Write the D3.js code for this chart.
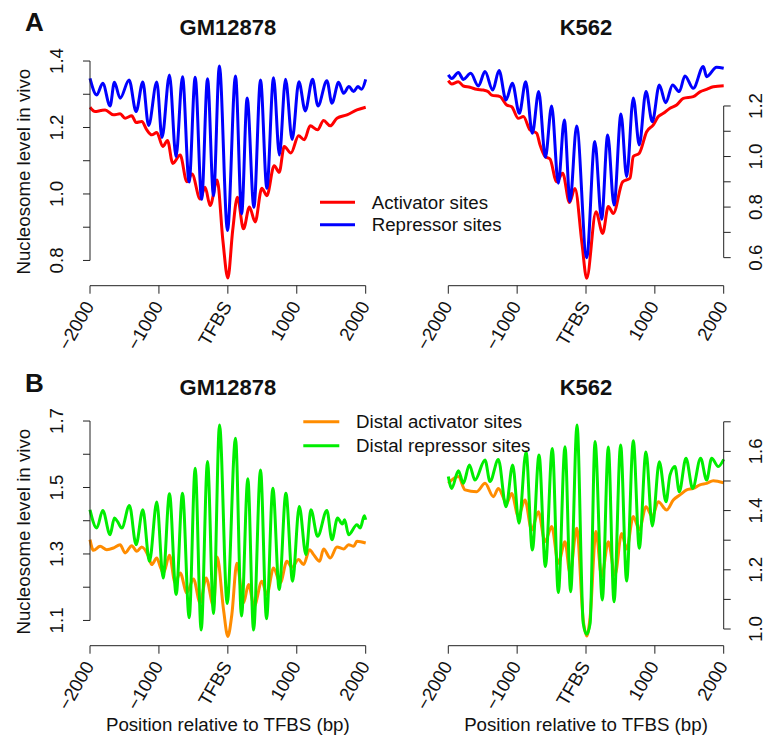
<!DOCTYPE html>
<html>
<head>
<meta charset="utf-8">
<script src="https://cdn.jsdelivr.net/npm/d3@7"></script>
<style>
  body { margin: 0; background: #fff; }
  svg text { font-family: "Liberation Sans", Arial, Helvetica, sans-serif; fill: #111; }
</style>
</head>
<body>
<div id="chart"></div>
<script>
const width = 766
const height = 737

// x ticks (bp relative to TFBS)
const xTicks = [-2000, -1000, 0, 1000, 2000]
const xTickLabels = ["\u22122000", "\u22121000", "TFBS", "1000", "2000"]

// y ticks per panel
const yTicksGmA = [0.8, 0.9, 1.0, 1.1, 1.2, 1.3, 1.4]
const yLabelsGmA = [0.8, 1.0, 1.2, 1.4]
const yTicksK5A = [0.6, 0.7, 0.8, 0.9, 1.0, 1.1, 1.2]
const yLabelsK5A = [0.6, 0.8, 1.0, 1.2]
const yTicksGmB = [1.1, 1.2, 1.3, 1.4, 1.5, 1.6, 1.7]
const yLabelsGmB = [1.1, 1.3, 1.5, 1.7]
const yTicksK5B = [1.0, 1.1, 1.2, 1.3, 1.4, 1.5, 1.6, 1.7]
const yLabelsK5B = [1.0, 1.2, 1.4, 1.6]

const legendA = ["Activator sites", "Repressor sites"]
const legendB = ["Distal activator sites", "Distal repressor sites"]

// [position, nucleosome level]
const gmActivator = [[-2000,1.261],[-1926,1.248],[-1844,1.251],[-1781,1.253],[-1660,1.238],[-1563,1.241],[-1491,1.228],[-1394,1.235],[-1331,1.215],[-1249,1.218],[-1176,1.193],[-1104,1.178],[-1031,1.185],[-944,1.143],[-876,1.161],[-799,1.092],[-692,1.117],[-595,1.037],[-520,1.06],[-402,0.985],[-330,1.02],[-257,0.965],[-155,1.042],[-72,0.86],[0,0.747],[70,0.89],[139,0.99],[227,0.895],[313,0.961],[396,0.916],[493,1.017],[566,0.995],[672,1.085],[745,1.065],[818,1.143],[915,1.123],[1026,1.175],[1108,1.163],[1195,1.205],[1302,1.193],[1389,1.221],[1486,1.205],[1583,1.228],[1728,1.238],[1873,1.253],[2000,1.261]]
const gmRepressor = [[-2000,1.348],[-1902,1.298],[-1815,1.333],[-1709,1.265],[-1646,1.336],[-1563,1.288],[-1433,1.343],[-1331,1.248],[-1234,1.337],[-1150,1.206],[-1031,1.337],[-955,1.17],[-847,1.358],[-752,1.112],[-658,1.353],[-562,1.036],[-474,1.351],[-380,0.984],[-295,1.347],[-208,0.995],[-123,1.385],[-5,0.89],[111,1.355],[200,0.94],[280,1.289],[378,0.96],[474,1.343],[566,1.017],[663,1.35],[748,1.117],[837,1.345],[933,1.164],[1031,1.338],[1123,1.25],[1229,1.345],[1307,1.265],[1437,1.341],[1510,1.273],[1607,1.336],[1679,1.303],[1757,1.323],[1825,1.308],[1888,1.323],[1940,1.315],[2000,1.345]]
const k5Activator = [[-2000,1.3],[-1950,1.287],[-1854,1.296],[-1781,1.279],[-1685,1.274],[-1588,1.266],[-1491,1.263],[-1419,1.256],[-1370,1.243],[-1249,1.237],[-1152,1.204],[-1079,1.197],[-983,1.151],[-910,1.158],[-813,1.105],[-716,1.092],[-668,1.046],[-595,1.0],[-523,0.99],[-426,0.9],[-339,0.934],[-240,0.818],[-160,0.874],[-60,0.66],[10,0.518],[145,0.782],[242,0.696],[324,0.802],[397,0.775],[532,0.9],[639,0.914],[687,1.0],[774,1.013],[881,1.098],[978,1.125],[1050,1.158],[1123,1.171],[1220,1.191],[1316,1.204],[1413,1.23],[1558,1.237],[1655,1.256],[1752,1.266],[1849,1.276],[2000,1.28]]
const k5Repressor = [[-2000,1.323],[-1950,1.309],[-1854,1.332],[-1781,1.305],[-1675,1.329],[-1563,1.279],[-1467,1.336],[-1355,1.263],[-1263,1.34],[-1162,1.224],[-1070,1.29],[-968,1.171],[-876,1.296],[-779,1.092],[-687,1.257],[-590,0.997],[-499,1.2],[-402,0.894],[-315,1.145],[-232,0.822],[-136,1.121],[10,0.6],[128,1.059],[227,0.752],[315,1.085],[407,0.808],[508,1.168],[590,0.92],[687,1.232],[774,1.046],[871,1.257],[963,1.138],[1065,1.283],[1157,1.213],[1258,1.283],[1355,1.257],[1437,1.319],[1558,1.27],[1704,1.356],[1752,1.316],[1897,1.353],[2000,1.349]]
const gmDistalAct = [[-2000,1.343],[-1950,1.311],[-1854,1.323],[-1757,1.313],[-1660,1.318],[-1563,1.328],[-1491,1.303],[-1394,1.325],[-1321,1.308],[-1249,1.321],[-1152,1.293],[-1104,1.268],[-1031,1.288],[-983,1.263],[-934,1.243],[-847,1.296],[-765,1.213],[-692,1.243],[-595,1.183],[-499,1.225],[-402,1.153],[-315,1.228],[-208,1.143],[-155,1.291],[-63,1.133],[0,1.052],[58,1.118],[131,1.272],[227,1.153],[300,1.208],[382,1.143],[494,1.218],[566,1.178],[663,1.258],[760,1.213],[857,1.278],[929,1.26],[1026,1.283],[1099,1.268],[1186,1.313],[1244,1.298],[1331,1.278],[1389,1.315],[1486,1.288],[1583,1.321],[1680,1.315],[1752,1.328],[1825,1.323],[1873,1.338],[2000,1.333]]
const gmDistalRep = [[-2000,1.433],[-1902,1.378],[-1815,1.431],[-1709,1.358],[-1646,1.408],[-1602,1.398],[-1539,1.378],[-1428,1.446],[-1331,1.328],[-1234,1.433],[-1137,1.278],[-1031,1.456],[-939,1.228],[-847,1.481],[-750,1.178],[-658,1.483],[-561,1.108],[-474,1.558],[-387,1.071],[-295,1.578],[-208,1.121],[-121,1.688],[-10,1.151],[111,1.648],[198,1.113],[290,1.526],[373,1.071],[474,1.553],[561,1.105],[653,1.498],[745,1.193],[842,1.483],[939,1.218],[1036,1.443],[1133,1.298],[1205,1.433],[1302,1.353],[1437,1.431],[1510,1.343],[1592,1.408],[1660,1.39],[1694,1.403],[1752,1.358],[1873,1.388],[1921,1.378],[1980,1.415],[2000,1.403]]
const k5DistalAct = [[-2000,1.492],[-1854,1.515],[-1757,1.47],[-1587,1.464],[-1466,1.492],[-1345,1.447],[-1273,1.475],[-1152,1.425],[-1079,1.458],[-983,1.38],[-886,1.436],[-789,1.334],[-692,1.396],[-595,1.295],[-498,1.346],[-402,1.222],[-305,1.295],[-232,1.188],[-135,1.34],[-40,1.03],[10,0.976],[60,1.04],[145,1.329],[227,1.177],[324,1.295],[421,1.182],[518,1.323],[590,1.27],[687,1.38],[774,1.335],[871,1.413],[963,1.38],[1050,1.43],[1171,1.402],[1268,1.436],[1365,1.453],[1462,1.47],[1558,1.475],[1655,1.487],[1752,1.492],[1849,1.501],[2000,1.494]]
const k5DistalRep = [[-2000,1.515],[-1950,1.475],[-1854,1.535],[-1781,1.492],[-1694,1.554],[-1612,1.503],[-1467,1.571],[-1394,1.498],[-1273,1.573],[-1162,1.413],[-1065,1.554],[-973,1.357],[-871,1.599],[-779,1.267],[-682,1.588],[-590,1.211],[-489,1.61],[-402,1.123],[-305,1.616],[-223,1.126],[-130,1.689],[-40,1.019],[10,0.982],[60,1.019],[131,1.633],[237,1.098],[324,1.615],[407,1.092],[503,1.622],[590,1.162],[687,1.636],[774,1.273],[871,1.598],[963,1.348],[1065,1.565],[1162,1.43],[1220,1.52],[1292,1.549],[1355,1.464],[1452,1.577],[1549,1.475],[1665,1.577],[1752,1.503],[1825,1.577],[1921,1.549],[2000,1.573]]

const svg = d3.select("#chart")
              .append("svg")
              .attr("width", width)
              .attr("height", height)

const fontSize = 18.7
const lineW = 3

const panels = [
  {x0: 90, x1: 365.7, top: 57.7, bottom: 285.7, domain: [0.724, 1.41], ticks: yTicksGmA, labels: yLabelsGmA, side: "left",
   title: "GM12878", series: [gmActivator, gmRepressor], colors: ["#ff0000", "#0000ff"]},
  {x0: 448.3, x1: 723.7, top: 57.7, bottom: 285.7, domain: [0.489, 1.391], ticks: yTicksK5A, labels: yLabelsK5A, side: "right",
   title: "K562", series: [k5Activator, k5Repressor], colors: ["#ff0000", "#0000ff"]},
  {x0: 90, x1: 365.7, top: 417.7, bottom: 645.7, domain: [1.024, 1.71], ticks: yTicksGmB, labels: yLabelsGmB, side: "left",
   title: "GM12878", series: [gmDistalAct, gmDistalRep], colors: ["#ff8c00", "#00ee00"]},
  {x0: 448.3, x1: 723.7, top: 417.7, bottom: 645.7, domain: [0.9436, 1.7138], ticks: yTicksK5B, labels: yLabelsK5B, side: "right",
   title: "K562", series: [k5DistalAct, k5DistalRep], colors: ["#ff8c00", "#00ee00"]}
]

panels.forEach(p => {
  const x = d3.scaleLinear().domain([-2000, 2000]).range([p.x0, p.x1])
  const y = d3.scaleLinear().domain(p.domain).range([p.bottom, p.top])
  const g = svg.append("g")

  const line = d3.line()
                 .x(d => x(d[0]))
                 .y(d => y(d[1]))
                 .curve(d3.curveMonotoneX)

  p.series.forEach((s, i) => {
    g.append("path")
     .datum(s)
     .attr("d", line)
     .attr("fill", "none")
     .attr("stroke", p.colors[i])
     .attr("stroke-width", lineW)
     .attr("stroke-linejoin", "round")
  })

  // x axis
  g.append("line")
   .attr("x1", x(-2000)).attr("x2", x(2000))
   .attr("y1", p.bottom).attr("y2", p.bottom)
   .attr("stroke", "#222")
  xTicks.forEach((t, i) => {
    g.append("line")
     .attr("x1", x(t)).attr("x2", x(t))
     .attr("y1", p.bottom).attr("y2", p.bottom + 8)
     .attr("stroke", "#222")
    g.append("text")
     .attr("transform", `translate(${x(t) - 1},${p.bottom + 17}) rotate(-60)`)
     .attr("text-anchor", "end")
     .attr("dy", "0.35em")
     .style("font-size", fontSize + "px")
     .text(xTickLabels[i])
  })

  // y axis
  const ax = p.side === "left" ? p.x0 : p.x1
  const dir = p.side === "left" ? -1 : 1
  const yr = d3.extent(p.ticks)
  g.append("line")
   .attr("x1", ax).attr("x2", ax)
   .attr("y1", y(yr[0])).attr("y2", y(yr[1]))
   .attr("stroke", "#222")
  p.ticks.forEach(t => {
    g.append("line")
     .attr("x1", ax).attr("x2", ax + dir * 7)
     .attr("y1", y(t)).attr("y2", y(t))
     .attr("stroke", "#222")
  })
  p.labels.forEach(t => {
    g.append("text")
     .attr("transform", `translate(${ax + dir * (p.side === "left" ? 34 : 32)},${y(t)}) rotate(-90)`)
     .attr("text-anchor", "middle")
     .attr("dy", "0.35em")
     .style("font-size", fontSize + "px")
     .text(d3.format(".1f")(t))
  })

  // title
  g.append("text")
   .attr("x", (p.x0 + p.x1) / 2)
   .attr("y", p.top - 23)
   .attr("text-anchor", "middle")
   .style("font-size", "22px")
   .style("font-weight", "bold")
   .text(p.title)

  if (p.side === "left") {
    g.append("text")
     .attr("transform", `translate(23,${(p.top + p.bottom) / 2}) rotate(-90)`)
     .attr("text-anchor", "middle")
     .attr("dy", "0.35em")
     .style("font-size", fontSize + "px")
     .text("Nucleosome level in vivo")
  }
})

// x axis titles
;[227.8, 586].forEach(cx => {
  svg.append("text")
     .attr("x", cx)
     .attr("y", 731)
     .attr("text-anchor", "middle")
     .style("font-size", fontSize + "px")
     .text("Position relative to TFBS (bp)")
})

// panel letters
svg.append("text").attr("x", 25).attr("y", 31).style("font-size", "26px").style("font-weight", "bold").text("A")
svg.append("text").attr("x", 25).attr("y", 392).style("font-size", "26px").style("font-weight", "bold").text("B")

// legends
function drawLegend(names, colors, lx0, lx1, tx, ys) {
  names.forEach((n, i) => {
    svg.append("line")
       .attr("x1", lx0).attr("x2", lx1)
       .attr("y1", ys[i]).attr("y2", ys[i])
       .attr("stroke", colors[i])
       .attr("stroke-width", lineW)
    svg.append("text")
       .attr("x", tx)
       .attr("y", ys[i])
       .attr("dy", "0.35em")
       .style("font-size", fontSize + "px")
       .text(n)
  })
}
drawLegend(legendA, ["#ff0000", "#0000ff"], 320, 355, 371.7, [202.3, 224.7])
drawLegend(legendB, ["#ff8c00", "#00ee00"], 303.3, 339.3, 356, [421.7, 445.7])
</script>
</body>
</html>
